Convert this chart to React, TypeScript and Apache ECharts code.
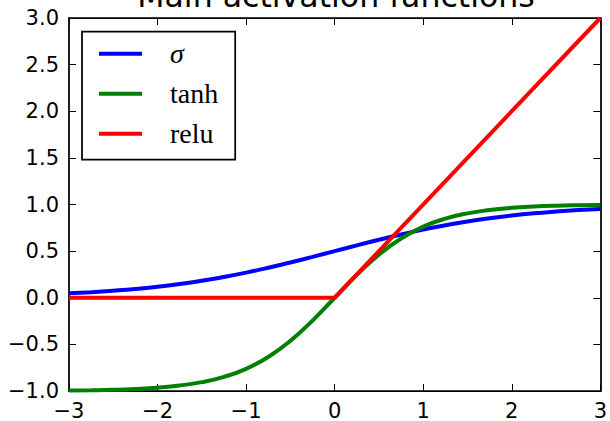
import React, { useEffect, useRef } from "react";
import * as echarts from "echarts";

const xValues = [-3, -2.75, -2.5, -2.25, -2, -1.75, -1.5, -1.25, -1, -0.75, -0.5, -0.25, 0, 0.25, 0.5, 0.75, 1, 1.25, 1.5, 1.75, 2, 2.25, 2.5, 2.75, 3];
const sigmaValues = [0.047, 0.06, 0.076, 0.095, 0.119, 0.148, 0.182, 0.223, 0.269, 0.321, 0.378, 0.438, 0.5, 0.562, 0.622, 0.679, 0.731, 0.777, 0.818, 0.852, 0.881, 0.905, 0.924, 0.94, 0.953];
const tanhValues = [-0.995, -0.992, -0.987, -0.978, -0.964, -0.941, -0.905, -0.848, -0.762, -0.635, -0.462, -0.245, 0, 0.245, 0.462, 0.635, 0.762, 0.848, 0.905, 0.941, 0.964, 0.978, 0.987, 0.992, 0.995];
const reluX = [-3, 0, 3];
const reluValues = [0, 0, 3];
const seriesNames = ["σ", "tanh", "relu"];
const titleText = "Main activation functions";

const minus = (s: string) => s.replace("-", "\u2212");

export default function App() {
  const ref = useRef<HTMLDivElement>(null);
  useEffect(() => {
    if (!ref.current) return;
    const chart = echarts.init(ref.current, null, { renderer: "svg" });
    const axisLine = { show: true, onZero: false, lineStyle: { color: "#000", width: 1.75 } };
    const tickStyle = { show: true, inside: true, length: 7, lineStyle: { color: "#000", width: 1 } };
    const labelFont = { fontFamily: "DejaVu Sans", fontSize: 21, color: "#000" };
    chart.setOption({
      animation: false,
      backgroundColor: "#fff",
      grid: { left: 69, right: 7.5, top: 18, bottom: 30, containLabel: false },
      graphic: [
        {
          type: "text",
          x: 336,
          y: -4,
          style: {
            text: titleText,
            fontFamily: "DejaVu Sans",
            fontSize: 31.6,
            fill: "#000",
            textAlign: "center",
            textVerticalAlign: "middle",
          },
          z: 100,
        },
      ],
      legend: {
        show: true,
        orient: "vertical",
        left: 82,
        top: 31.7,
        padding: [8, 17, 12, 17],
        icon: "rect",
        itemWidth: 43,
        itemHeight: 4,
        itemGap: 12,
        borderColor: "#000",
        borderWidth: 1.75,
        borderRadius: 0,
        backgroundColor: "#fff",
        data: seriesNames,
        formatter: (name: string) => (name === "σ" ? "{i|σ}" : name),
        textStyle: {
          fontFamily: "Liberation Serif",
          fontSize: 28,
          lineHeight: 28,
          color: "#000",
          padding: [0, 0, 0, 23],
          rich: { i: { fontFamily: "Liberation Serif", fontStyle: "italic", fontSize: 28, lineHeight: 28, color: "#000" } },
        },
      },
      xAxis: [
        {
          type: "value",
          position: "bottom",
          min: -3,
          max: 3,
          interval: 1,
          axisLine,
          axisTick: tickStyle,
          splitLine: { show: false },
          axisLabel: { ...labelFont, margin: 9, showMinLabel: true, showMaxLabel: true, formatter: (v: number) => minus(String(v)) },
        },
        {
          type: "value",
          position: "top",
          min: -3,
          max: 3,
          interval: 1,
          axisLine,
          axisTick: tickStyle,
          splitLine: { show: false },
          axisLabel: { show: false },
        },
      ],
      yAxis: [
        {
          type: "value",
          position: "left",
          min: -1,
          max: 3,
          interval: 0.5,
          axisLine,
          axisTick: tickStyle,
          splitLine: { show: false },
          axisLabel: { ...labelFont, margin: 10, showMinLabel: true, showMaxLabel: true, formatter: (v: number) => minus(v.toFixed(1)) },
        },
        {
          type: "value",
          position: "right",
          min: -1,
          max: 3,
          interval: 0.5,
          axisLine,
          axisTick: tickStyle,
          splitLine: { show: false },
          axisLabel: { show: false },
        },
      ],
      series: [
        {
          name: seriesNames[0],
          type: "line",
          data: xValues.map((x, i) => [x, sigmaValues[i]]),
          smooth: true,
          symbol: "none",
          lineStyle: { color: "#0000ff", width: 4 },
          itemStyle: { color: "#0000ff" },
        },
        {
          name: seriesNames[1],
          type: "line",
          data: xValues.map((x, i) => [x, tanhValues[i]]),
          smooth: true,
          symbol: "none",
          lineStyle: { color: "#008000", width: 4 },
          itemStyle: { color: "#008000" },
        },
        {
          name: seriesNames[2],
          type: "line",
          data: reluX.map((x, i) => [x, reluValues[i]]),
          symbol: "none",
          lineStyle: { color: "#ff0000", width: 4 },
          itemStyle: { color: "#ff0000" },
        },
      ],
    });
    return () => chart.dispose();
  }, []);
  return <div ref={ref} style={{ position: "absolute", left: 0, top: 0, width: 610, height: 421 }} />;
}
